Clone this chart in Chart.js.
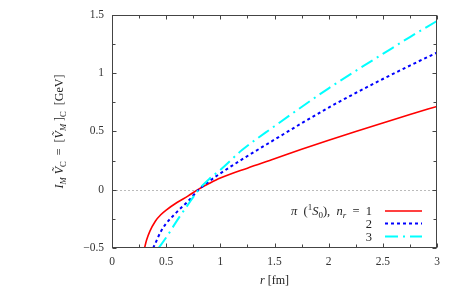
<!DOCTYPE html>
<html><head><meta charset="utf-8">
<script src="https://cdn.jsdelivr.net/npm/chart.js@4/dist/chart.umd.min.js"></script>
<style>html,body{margin:0;padding:0;background:#fff}canvas{display:block}</style>
</head><body>
<canvas id="c" width="463" height="288"></canvas>
<script>
// ---- data ----
const rRed  = [0.30,0.32,0.35,0.40,0.45,0.50,0.60,0.70,0.80,0.90,1.00,1.25,1.50,1.75,2.00,2.25,2.50,2.75,3.00];
const vRed  = [-0.5,-0.43,-0.355,-0.27,-0.215,-0.175,-0.11,-0.055,0.005,0.055,0.10,0.185,0.265,0.347,0.425,0.50,0.573,0.645,0.715];
const rBlue = [0.38,0.40,0.45,0.50,0.60,0.70,0.80,0.90,1.00,1.20,1.50,1.75,2.00,2.25,2.50,2.75,3.00];
const vBlue = [-0.5,-0.46,-0.36,-0.29,-0.19,-0.10,0.0,0.075,0.14,0.26,0.43,0.57,0.705,0.83,0.95,1.065,1.177];
const rCyan = [0.43,0.50,0.60,0.70,0.80,0.90,1.00,1.20,1.50,1.75,2.00,2.25,2.50,2.75,3.00];
const vCyan = [-0.5,-0.41,-0.265,-0.13,0.0,0.095,0.17,0.34,0.545,0.71,0.87,1.02,1.165,1.31,1.448];
const legendLabels = ["1","2","3"];
const xTicks = [0,0.5,1,1.5,2,2.5,3];
const yTicks = [-0.5,0,0.5,1,1.5];

const SERIF = '"Liberation Serif","DejaVu Serif",serif';
Chart.defaults.font.family = SERIF;
const pts = (xs, ys) => xs.map((x,i)=>({x:x,y:ys[i]}));

function fmt(v){ return (v<0?'\u2212':'') + String(Math.abs(v)); }

// rich text: segments {t, i:italic, s:'sub'|'sup'}
function richWidth(ctx, segs, size){
  let w=0;
  for(const g of segs){
    const fs = g.s ? size*0.72 : size;
    ctx.font = (g.i?'italic ':'') + fs + 'px ' + SERIF;
    w += ctx.measureText(g.t).width;
  }
  return w;
}
function drawRich(ctx, segs, x, y, align, size){
  const w = richWidth(ctx, segs, size);
  let cx = align==='right' ? x-w : align==='center' ? x-w/2 : x;
  ctx.textAlign='left'; ctx.textBaseline='alphabetic';
  for(const g of segs){
    const fs = g.s ? size*0.72 : size;
    ctx.font = (g.i?'italic ':'') + fs + 'px ' + SERIF;
    const dy = g.s==='sub' ? size*0.25 : g.s==='sup' ? -size*0.38 : 0;
    ctx.fillText(g.t, cx, y+dy);
    cx += ctx.measureText(g.t).width;
  }
}

const decor = {
  id:'decor',
  beforeDatasetsDraw(chart){
    const {ctx, chartArea:a, scales:{y}} = chart;
    const y0 = Math.round(y.getPixelForValue(0))+0.5;
    ctx.save();
    ctx.strokeStyle='#bbbbbb'; ctx.lineWidth=1; ctx.setLineDash([2,2]);
    ctx.beginPath(); ctx.moveTo(a.left,y0); ctx.lineTo(a.right,y0); ctx.stroke();
    ctx.restore();
  },
  afterDraw(chart){
    const {ctx, chartArea:a, scales:{x,y}} = chart;
    ctx.save();
    ctx.strokeStyle='#444'; ctx.lineWidth=1;
    const L=Math.round(a.left)+0.5, R=Math.round(a.right)-0.5, T=Math.round(a.top)+0.5, B=Math.round(a.bottom)-0.5;
    ctx.strokeRect(L,T,R-L,B-T);
    ctx.beginPath();
    for(let v=0; v<=3.0001; v+=0.25){
      const px=Math.round(x.getPixelForValue(v))+0.5;
      const len = (Math.abs(v*2-Math.round(v*2))<1e-6)?4:3;
      ctx.moveTo(px,B); ctx.lineTo(px,B-len);
      ctx.moveTo(px,T); ctx.lineTo(px,T+len);
    }
    for(let v=-0.5; v<=1.5001; v+=0.25){
      const py=Math.round(y.getPixelForValue(v))+0.5;
      const len = (Math.abs(v*2-Math.round(v*2))<1e-6)?4:3;
      ctx.moveTo(L,py); ctx.lineTo(L+len,py);
      ctx.moveTo(R,py); ctx.lineTo(R-len,py);
    }
    ctx.stroke();

    // axis titles
    ctx.fillStyle='#222';
    drawRich(ctx,[{t:'r',i:1},{t:' [fm]'}], (a.left+a.right)/2, 284, 'center', 12);
    ctx.save();
    ctx.translate(63,(a.top+a.bottom)/2); ctx.rotate(-Math.PI/2);
    drawRich(ctx,[{t:'I',i:1},{t:'M',i:1,s:'sub'},{t:' \u1E7C',i:1},{t:'C',s:'sub'},{t:'  =  ['},{t:'\u1E7C',i:1},{t:'M',i:1,s:'sub'},{t:' ]'},{t:'C',s:'sub'},{t:'  [GeV]'}], 0, 0, 'center', 12);
    ctx.restore();

    // legend
    const rows=[211,223.5,236.5];
    chart.data.datasets.forEach((ds,i)=>{
      const yy=rows[i];
      const segs = i===0
        ? [{t:'\u03C0',i:1},{t:'  ('},{t:'1',s:'sup'},{t:'S',i:1},{t:'0',s:'sub'},{t:'),  '},{t:'n',i:1},{t:'r',i:1,s:'sub'},{t:'  =  '+legendLabels[i]}]
        : [{t:legendLabels[i]}];
      ctx.fillStyle='#222';
      drawRich(ctx,segs,372,yy+4,'right',12.5);
      ctx.strokeStyle=ds.borderColor; ctx.lineWidth=ds.borderWidth; ctx.setLineDash(ds.borderDash||[]);
      ctx.beginPath(); ctx.moveTo(385,yy); ctx.lineTo(422,yy); ctx.stroke();
    });
    ctx.restore();
  }
};

new Chart(document.getElementById('c'),{
  type:'line',
  data:{datasets:[
    {data:pts(rRed,vRed), borderColor:'#ff0000', borderWidth:1.6, borderDash:[], order:3},
    {data:pts(rBlue,vBlue), borderColor:'#0000ff', borderWidth:2, borderDash:[3,3], order:2},
    {data:pts(rCyan,vCyan), borderColor:'#00ffff', borderWidth:2, borderDash:[13,5,2,5], order:1}
  ]},
  options:{
    responsive:false, animation:false, devicePixelRatio:1,
    layout:{padding:{top:14,right:26,left:0,bottom:0}},
    elements:{point:{radius:0}, line:{cubicInterpolationMode:'monotone', fill:false}},
    plugins:{legend:{display:false}, tooltip:{enabled:false}},
    scales:{
      x:{type:'linear', min:0, max:3,
        afterFit(s){s.height=40;},
        afterBuildTicks(s){s.ticks=xTicks.map(v=>({value:v}));},
        grid:{display:false, drawTicks:false}, border:{display:false},
        ticks:{padding:7, color:'#333', font:{family:SERIF,size:11.5}, maxRotation:0, callback:v=>fmt(v)}},
      y:{type:'linear', min:-0.5, max:1.5,
        afterFit(s){s.width=112;},
        afterBuildTicks(s){s.ticks=yTicks.map(v=>({value:v}));},
        grid:{display:false, drawTicks:false}, border:{display:false},
        ticks:{padding:8, color:'#333', font:{family:SERIF,size:11.5}, callback:v=>fmt(v)}}
    }
  },
  plugins:[decor]
});
</script>
</body></html>
